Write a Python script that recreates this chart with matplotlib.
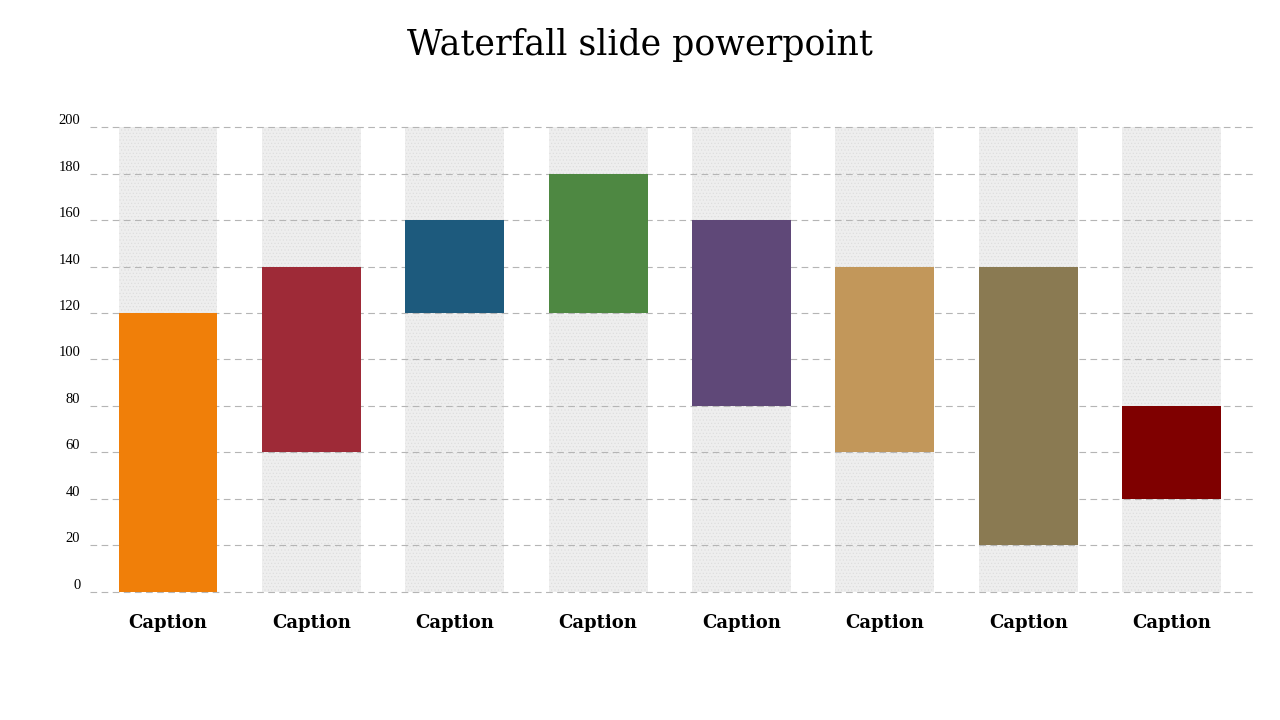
import numpy as np
import matplotlib.pyplot as plt

plt.rcParams['font.family'] = ['Liberation Serif', 'DejaVu Serif']
plt.rcParams['hatch.linewidth'] = 0.4

captions = ['Caption'] * 8
bottoms = [0, 60, 120, 120, 80, 60, 20, 40]
tops = [120, 140, 160, 180, 160, 140, 140, 80]
colors = ['#F07F09', '#9E2A37', '#1D5A7D', '#4E8842',
          '#5F4878', '#C2975A', '#8A7A52', '#7F0000']
ymax = 200
yticks = np.arange(0, 201, 20)

x = np.arange(len(captions))
heights = np.array(tops) - np.array(bottoms)

fig = plt.figure(figsize=(12.8, 7.2), dpi=100)
ax = fig.add_axes([0.0703, 0.1778, 0.910, 0.6458])

# grey background columns
ax.bar(x, ymax, width=0.69, color='#eeeeee', edgecolor='#dcdcdc',
       hatch='.....', linewidth=0, zorder=1)
# floating bars
ax.bar(x, heights, bottom=bottoms, width=0.69, color=colors,
       linewidth=0, zorder=3)

ax.set_xlim(-0.544, 7.58)
ax.set_ylim(0, ymax)
ax.set_yticks(yticks)
# dashed gridlines (drawn by hand so the 0 and 200 lines are not clipped)
for yv in yticks:
    ax.axhline(yv, linestyle=(0, (6, 4)), color='#b5b5b5', linewidth=0.8,
               zorder=2, clip_on=False)
for s in ax.spines.values():
    s.set_visible(False)
ax.tick_params(axis='y', length=0, labelsize=10.5, pad=7)
for lab in ax.get_yticklabels():
    lab.set_verticalalignment('bottom')
ax.set_xticks(x)
ax.set_xticklabels(captions, fontsize=13, fontweight='bold', family='DejaVu Serif')
ax.tick_params(axis='x', length=0, pad=16)

fig.text(0.5, 0.937, 'Waterfall slide powerpoint', ha='center', va='center',
         fontsize=25, family='DejaVu Serif')

fig.savefig('out.png', dpi=100)
